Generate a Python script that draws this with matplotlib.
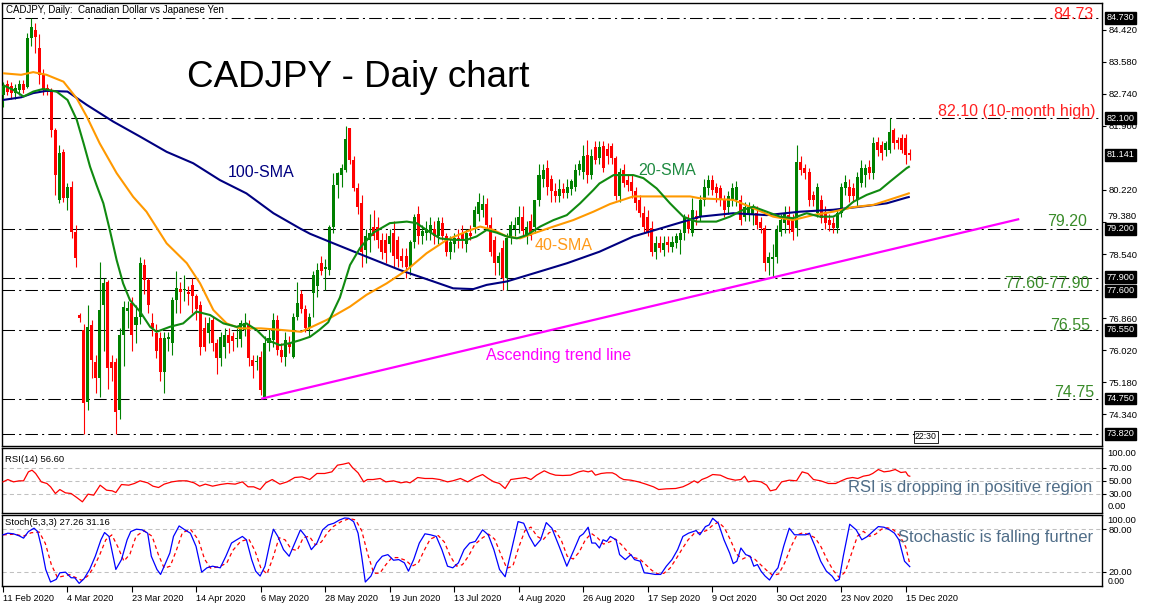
import matplotlib
matplotlib.use("Agg")
import matplotlib.pyplot as plt
import numpy as np

plt.rcParams['font.family'] = ['Liberation Sans', 'DejaVu Sans']

# ---------------- data ----------------
# daily candles, bar 0 = 11 Feb 2020 ... bar 225 = 16 Dec 2020
opens = [82.70, 83.00, 82.95, 82.75, 82.85, 83.00, 82.92, 84.20, 84.42, 83.94,
         83.23, 82.90, 82.79, 81.79, 79.96, 81.22, 80.01, 80.30, 79.12, 76.95,
         76.55, 74.66, 76.68, 75.71, 75.29, 77.20, 77.81, 75.71, 75.71, 74.45,
         76.42, 77.05, 77.25, 76.68, 76.89, 78.25, 77.86, 76.73, 76.47, 76.34,
         75.45, 76.30, 76.21, 77.33, 77.62, 77.60, 77.55, 77.72, 77.43, 77.20,
         76.60, 76.47, 76.80, 76.20, 75.80, 76.10, 76.42, 76.38, 76.30, 76.30,
         76.55, 76.68, 75.76, 75.70, 75.84, 74.79, 76.21, 76.29, 76.81, 76.02,
         75.84, 76.20, 75.84, 76.89, 77.50, 77.10, 76.60, 77.52, 77.70, 78.30,
         78.15, 78.12, 79.25, 80.35, 80.60, 80.75, 81.85, 81.01, 80.27, 79.88,
         78.65, 78.90, 79.25, 79.25, 78.90, 78.90, 78.80, 79.10, 78.90, 78.50,
         78.50, 78.20, 78.85, 79.60, 79.00, 79.10, 79.10, 79.20, 79.00, 79.35,
         79.00, 78.60, 78.80, 78.95, 79.10, 78.80, 79.10, 79.26, 79.60, 79.70,
         79.85, 79.30, 78.90, 78.30, 78.70, 77.91, 78.96, 79.20, 79.30, 79.50,
         79.00, 79.40, 79.25, 79.95, 80.50, 80.80, 80.50, 80.20, 80.05, 80.25,
         80.15, 80.25, 80.30, 80.75, 80.70, 81.14, 80.60, 81.35, 81.06, 81.36,
         81.30, 81.36, 81.05, 80.05, 80.74, 80.48, 80.44, 80.18, 79.96, 79.61,
         79.52, 79.22, 78.60, 78.82, 78.65, 78.85, 78.73, 78.82, 78.91, 79.08,
         79.40, 79.09, 79.55, 79.52, 79.96, 80.26, 80.48, 80.31, 80.26, 79.96,
         79.78, 79.96, 79.96, 79.96, 79.52, 79.57, 79.57, 79.61, 79.39, 79.22,
         78.30, 78.40, 78.47, 79.13, 79.35, 79.57, 79.43, 79.22, 80.96, 80.79,
         80.70, 80.09, 79.61, 79.96, 79.65, 79.43, 79.35, 79.22, 79.61, 80.26,
         80.31, 80.26, 79.96, 80.39, 80.60, 80.83, 80.66, 81.49, 81.40, 81.27,
         81.27, 81.80, 81.53, 81.58, 81.58, 81.18]
highs = [83.05, 83.10, 83.05, 83.00, 83.10, 83.10, 84.34, 84.73, 84.60, 84.30,
         83.40, 83.00, 82.90, 81.85, 81.40, 81.30, 80.40, 80.45, 79.30, 77.00,
         76.70, 77.20, 76.80, 75.90, 78.33, 77.90, 77.85, 75.90, 75.80, 76.60,
         77.30, 77.30, 77.40, 77.20, 78.46, 78.40, 77.90, 77.00, 76.70, 76.50,
         76.50, 76.50, 77.40, 78.10, 77.80, 78.00, 77.70, 77.90, 77.50, 77.30,
         76.90, 76.90, 76.90, 76.30, 76.50, 76.60, 76.60, 76.50, 76.60, 76.80,
         77.00, 76.80, 75.90, 75.90, 76.00, 76.40, 76.60, 77.00, 76.95, 76.20,
         76.50, 76.40, 77.00, 77.81, 77.60, 77.20, 77.00, 78.10, 78.30, 78.50,
         78.40, 79.30, 80.67, 80.70, 80.90, 81.90, 81.85, 81.10, 80.40, 80.10,
         79.20, 79.60, 79.70, 79.50, 79.10, 79.10, 79.20, 79.40, 79.00, 78.70,
         78.70, 78.90, 79.60, 79.80, 79.30, 79.40, 79.50, 79.40, 79.50, 79.50,
         79.10, 79.00, 79.10, 79.20, 79.30, 79.20, 79.30, 79.80, 80.14, 80.10,
         80.00, 79.50, 79.00, 78.60, 78.90, 79.10, 79.40, 79.50, 79.80, 79.80,
         79.40, 79.60, 79.90, 80.90, 80.90, 81.00, 80.60, 80.40, 80.50, 80.40,
         80.50, 80.50, 80.90, 81.00, 81.40, 81.53, 81.30, 81.50, 81.50, 81.50,
         81.45, 81.45, 81.10, 80.80, 80.90, 80.60, 80.60, 80.30, 80.10, 79.80,
         79.70, 79.40, 79.00, 79.00, 79.00, 79.00, 79.00, 79.10, 79.20, 79.60,
         79.60, 80.00, 79.70, 80.10, 80.50, 80.60, 80.60, 80.40, 80.35, 80.10,
         80.20, 80.40, 80.45, 80.10, 79.90, 79.90, 79.85, 79.80, 79.50, 79.30,
         78.60, 78.80, 79.30, 79.60, 79.80, 79.80, 79.60, 81.40, 81.10, 80.90,
         80.80, 80.20, 80.40, 80.10, 79.80, 79.60, 79.50, 79.70, 80.40, 80.60,
         80.50, 80.40, 80.70, 81.00, 80.90, 81.00, 81.60, 81.60, 81.50, 81.50,
         82.10, 81.85, 81.60, 81.70, 81.70, 81.30]
lows = [82.39, 82.70, 82.60, 82.60, 82.70, 82.75, 82.90, 84.00, 83.80, 83.00,
        82.70, 82.70, 81.60, 80.09, 79.88, 79.90, 79.70, 78.96, 78.20, 76.75,
        73.82, 74.45, 75.30, 74.90, 74.80, 76.00, 75.00, 75.20, 73.82, 74.20,
        75.60, 76.60, 76.00, 76.20, 76.70, 77.50, 77.00, 76.40, 75.80, 75.20,
        74.90, 76.00, 75.90, 77.00, 77.00, 77.30, 77.20, 77.00, 76.80, 75.90,
        76.00, 76.20, 76.00, 75.40, 75.60, 75.80, 75.95, 76.00, 76.10, 76.10,
        76.40, 75.60, 75.30, 75.50, 74.85, 74.75, 76.00, 76.10, 75.90, 75.70,
        75.60, 75.95, 75.80, 76.80, 77.00, 76.50, 76.40, 76.90, 77.40, 78.00,
        77.60, 78.00, 79.10, 80.00, 80.30, 80.70, 80.90, 80.20, 79.60, 78.20,
        78.30, 78.60, 78.90, 78.70, 78.40, 78.30, 78.60, 78.20, 78.20, 78.20,
        77.90, 78.00, 78.70, 78.80, 78.80, 78.90, 78.90, 78.80, 78.80, 78.90,
        78.50, 78.40, 78.60, 78.70, 78.70, 78.60, 78.90, 79.10, 79.40, 79.50,
        79.20, 78.50, 78.00, 78.00, 77.60, 77.60, 78.80, 79.00, 79.10, 79.00,
        78.80, 78.90, 79.10, 79.80, 80.30, 80.10, 79.90, 79.90, 79.90, 80.00,
        80.00, 80.10, 80.20, 80.60, 80.50, 80.40, 80.50, 80.90, 80.90, 80.70,
        80.90, 80.90, 79.95, 79.90, 80.30, 80.20, 80.00, 79.70, 79.50, 79.10,
        79.00, 78.50, 78.40, 78.60, 78.50, 78.60, 78.60, 78.70, 78.55, 78.90,
        79.10, 79.00, 79.30, 79.40, 79.80, 80.10, 80.10, 79.90, 79.80, 79.50,
        79.60, 79.80, 79.80, 79.30, 79.40, 79.40, 79.30, 79.20, 79.10, 78.10,
        78.00, 77.95, 78.30, 79.00, 79.10, 79.10, 78.90, 79.00, 80.60, 80.50,
        79.80, 79.80, 79.50, 79.35, 79.20, 79.15, 79.10, 79.10, 79.50, 80.10,
        79.90, 79.90, 79.80, 80.30, 80.30, 80.50, 80.50, 81.10, 81.00, 81.10,
        81.20, 81.30, 81.30, 81.20, 80.90, 81.00]
closes = [82.95, 82.80, 82.75, 82.90, 83.00, 82.85, 84.20, 84.50, 84.24, 83.23,
          82.84, 82.80, 81.79, 80.61, 81.19, 80.01, 80.30, 79.12, 78.44, 76.86,
          74.63, 76.63, 75.76, 75.29, 77.07, 77.78, 75.55, 75.55, 74.40, 76.42,
          77.15, 77.12, 76.42, 76.89, 78.30, 77.86, 77.20, 76.60, 76.00, 75.45,
          76.34, 76.36, 77.33, 77.65, 77.55, 77.62, 77.50, 77.43, 77.10, 76.10,
          76.10, 76.73, 76.20, 75.80, 76.37, 76.42, 76.20, 76.25, 76.32, 76.73,
          76.73, 75.80, 75.60, 75.72, 74.97, 76.21, 76.34, 76.81, 76.02, 75.84,
          76.29, 76.10, 76.89, 77.26, 77.10, 76.60, 76.90, 77.99, 78.12, 78.10,
          78.20, 79.25, 80.35, 80.67, 80.80, 81.55, 81.01, 80.27, 79.77, 78.59,
          79.00, 79.10, 79.00, 78.90, 78.60, 78.57, 79.00, 78.50, 78.40, 78.35,
          78.20, 78.85, 79.50, 79.00, 79.15, 79.20, 79.30, 79.00, 79.40, 79.00,
          78.60, 78.86, 78.95, 78.90, 78.90, 79.10, 79.00, 79.70, 79.90, 79.85,
          79.30, 78.60, 78.30, 78.50, 77.91, 78.96, 79.30, 79.30, 79.50, 79.15,
          79.25, 79.00, 79.95, 80.60, 80.75, 80.30, 80.20, 80.05, 80.25, 80.15,
          80.30, 80.45, 80.75, 80.90, 81.10, 80.60, 81.10, 81.00, 81.35, 80.79,
          81.10, 81.05, 80.05, 80.70, 80.39, 80.35, 80.18, 79.87, 79.61, 79.26,
          79.13, 78.60, 78.82, 78.69, 78.82, 78.78, 78.85, 79.00, 79.08, 79.52,
          79.20, 79.70, 79.45, 79.96, 80.31, 80.48, 80.22, 80.14, 79.96, 79.70,
          80.05, 80.26, 80.31, 79.43, 79.78, 79.78, 79.78, 79.30, 79.22, 78.30,
          78.47, 78.47, 79.17, 79.43, 79.61, 79.30, 79.13, 80.96, 80.74, 80.66,
          79.96, 79.96, 80.31, 79.48, 79.35, 79.30, 79.22, 79.61, 80.31, 80.44,
          80.05, 80.05, 80.56, 80.79, 80.79, 80.66, 81.45, 81.27, 81.18, 81.44,
          81.74, 81.44, 81.44, 81.27, 81.14, 81.141]

# moving averages as (bar, price) points
sma20 = [(0, 82.97), (2.6, 82.84), (5.1, 82.67), (7.5, 82.80), (10, 82.87), (13.3, 82.80),
         (16, 82.58), (18.3, 82.06), (20, 81.44), (21.6, 80.83), (23.2, 80.35), (24.9, 79.87),
         (26.5, 79.17), (28.2, 78.38), (29.8, 77.77), (31.5, 77.33), (34, 77.03), (36.5, 76.63),
         (38.1, 76.50), (41.4, 76.63), (44.7, 76.72), (48, 77.03), (51.4, 76.94), (54.7, 76.72),
         (58, 76.63), (60.4, 76.72), (62.9, 76.55), (65.4, 76.29), (68.7, 76.15), (71.1, 76.20),
         (73.7, 76.28), (76.2, 76.37), (78.5, 76.55), (80.7, 76.75), (83.6, 77.40), (86.1, 78.25),
         (88.6, 78.70), (91.9, 79.10), (96, 79.35), (100.2, 79.39), (102.6, 79.35), (105.1, 79.17),
         (108.4, 78.95), (111.7, 78.91), (115, 78.91), (117.5, 79.00), (120, 79.17), (122.5, 79.10),
         (125, 79.00), (127.5, 78.95), (130, 79.04), (133.3, 79.26), (136.6, 79.43), (139.9, 79.56),
         (143.2, 79.87), (146.5, 80.22), (148, 80.39), (151.5, 80.61), (156.4, 80.61), (158.9, 80.53),
         (162.2, 80.26), (165.5, 79.87), (168.8, 79.52), (172.1, 79.39), (177, 79.39), (180.4, 79.52),
         (183.7, 79.70), (186.2, 79.78), (189.5, 79.65), (192.8, 79.52), (196, 79.48), (199.4, 79.61),
         (202.7, 79.52), (206, 79.52), (207.6, 79.61), (211, 79.91), (214.3, 80.09), (217.6, 80.22),
         (220.1, 80.44), (224.2, 80.79), (225, 80.84)]
sma40 = [(0, 83.28), (4.5, 83.24), (7.5, 83.31), (10.8, 83.24), (15, 83.06), (18.3, 82.62),
         (20.8, 82.14), (24, 81.44), (28.2, 80.66), (32.3, 80.04), (35.6, 79.65), (40.6, 78.82),
         (45.6, 78.30), (48.9, 77.77), (52.2, 77.07), (55.5, 76.72), (58.8, 76.59), (64, 76.59),
         (68.9, 76.55), (74, 76.50), (80.3, 76.81), (86.1, 77.16), (90.2, 77.47), (95.2, 77.77),
         (100.2, 78.12), (105.1, 78.56), (110.1, 78.91), (115, 79.13), (118.4, 79.26), (121.7, 79.17),
         (125, 79.00), (128.3, 78.95), (131.6, 79.08), (136.6, 79.26), (141.5, 79.43), (146.5, 79.65),
         (150.6, 79.85), (156.4, 80.05), (164.7, 80.05), (170.5, 80.05), (173, 80.00), (181.2, 79.96),
         (185.3, 79.78), (191.1, 79.52), (196, 79.43), (201, 79.56), (206, 79.65), (211, 79.77),
         (216, 79.83), (221, 80.00), (224.2, 80.11), (225, 80.14)]
sma100 = [(0, 82.58), (4.5, 82.65), (7.5, 82.76), (10.8, 82.82), (16, 82.80), (20.8, 82.45),
          (27.4, 82.01), (34, 81.62), (40.6, 81.22), (47.2, 80.92), (53.8, 80.48), (60.4, 80.13),
          (67.1, 79.61), (73.7, 79.21), (76.2, 79.07), (82, 78.82), (90.2, 78.47), (98.5, 78.12),
          (106.8, 77.82), (111.7, 77.64), (116.7, 77.62), (120, 77.73), (125, 77.82), (131.6, 78.03),
          (140, 78.30), (148, 78.60), (156.4, 79.00), (164.7, 79.26), (173, 79.52), (181.2, 79.61),
          (189.5, 79.56), (197.8, 79.65), (206, 79.70), (214.3, 79.80), (219.3, 79.87), (224.2, 80.02),
          (225, 80.04)]

# ascending trend line (start low on 6 May, extended to the right)
trend = [(64.3, 74.75), (251.9, 79.45)]

# horizontal levels
levels = [84.73, 82.10, 79.20, 77.90, 77.60, 76.55, 74.75, 73.82]
last_price = 81.141
price_ticks = [84.42, 83.58, 82.74, 81.90, 80.22, 79.38, 78.54,
               76.86, 76.02, 75.18, 74.34]
lifted_tick = 79.38      # label sits just above the 79.200 box

# RSI(14) as (bar, value)
rsi = [(0, 47.9), (1.2, 51.5), (2.6, 47.9), (4, 49.5), (5.1, 49.5), (6.3, 63.3), (7.2, 65.9),
       (8.1, 60.8), (9.5, 47.9), (10.9, 45.4), (11.8, 40.3), (13, 30.0), (14.1, 36.1), (15.5, 31.0),
       (16.9, 30.0), (18.3, 23.8), (19.7, 17.2), (21.1, 29.0), (22.5, 27.4), (24.1, 42.8),
       (25.7, 35.1), (27.1, 34.1), (28, 31.5), (29.4, 43.8), (31.2, 42.8), (32.6, 45.4), (34, 49.5),
       (35.9, 46.4), (37.2, 41.3), (38.6, 39.2), (40, 44.4), (41.9, 47.9), (43.7, 49.5), (45.6, 49.5),
       (47.4, 46.4), (48.8, 41.3), (50.2, 44.4), (52, 41.3), (53.9, 43.8), (55.7, 45.4), (57.6, 44.4),
       (59.4, 47.9), (60.8, 40.3), (62.2, 40.3), (63.8, 36.1), (65.2, 46.4), (66.8, 51.5), (68.7, 44.4),
       (70.5, 47.9), (72.4, 54.6), (74.2, 55.6), (76.1, 51.5), (77.9, 60.8), (79.8, 60.8), (81.6, 63.3),
       (83, 73.6), (84.4, 75.1), (85.8, 77.2), (86.7, 70.0), (88.1, 61.8), (89.5, 47.9), (90.4, 51.5),
       (91.8, 51.5), (93.6, 53.1), (95, 47.9), (96.9, 49.5), (98.7, 46.4), (100.1, 47.9), (101, 46.4),
       (102.9, 54.6), (104.7, 53.1), (106.6, 53.1), (108.4, 51.5), (110.3, 47.9), (111.6, 49.5),
       (113.5, 53.1), (115.3, 47.9), (117.2, 54.6), (119, 59.2), (120.4, 53.1), (121.8, 47.9),
       (123.2, 45.4), (124.6, 37.7), (126, 51.5), (127.8, 53.1), (129.7, 54.6), (131, 51.5),
       (132.4, 58.2), (134.3, 64.9), (135.7, 60.8), (137.1, 58.2), (138.9, 57.7), (140.8, 58.2),
       (142.9, 63.3), (144, 64.9), (145.2, 63.3), (146.1, 64.9), (147, 58.2), (148.4, 60.8),
       (149.8, 61.8), (151.2, 61.8), (152.1, 59.2), (153, 54.6), (154, 51.5), (155.8, 50.5),
       (157.7, 47.9), (159.5, 44.4), (161.4, 40.3), (162.7, 36.1), (164.6, 37.2), (166.9, 37.7),
       (168.7, 40.3), (170.1, 44.4), (171.5, 49.5), (172.4, 46.4), (173.4, 51.5), (174.7, 54.6),
       (176.1, 59.2), (178, 58.2), (179.8, 53.1), (181.7, 50.5), (183.1, 51.5), (184, 56.7),
       (184.9, 47.9), (186.3, 49.5), (188.1, 47.9), (189.5, 42.8), (190.4, 34.1), (191.8, 36.1),
       (193.2, 47.9), (195.1, 50.5), (196.9, 49.5), (198.3, 63.3), (199.7, 60.8), (201.1, 51.5),
       (202.9, 49.5), (204.8, 45.4), (206.6, 45.4), (208, 49.5), (209.4, 53.1), (210.8, 54.6),
       (212.1, 53.1), (213.5, 56.7), (214.9, 58.2), (215.8, 60.8), (217.2, 66.9), (218.6, 63.3),
       (220, 64.4), (221.4, 66.9), (222.8, 62.3), (224, 63.3), (224.6, 57.5), (225, 56.6)]

# Stochastic(5,3,3): main line %K and signal %D as (bar, value)
stoch_k = [(0, 72.1), (1.2, 74.4), (2.6, 73.5), (4, 70.7), (5.1, 67.4), (6.3, 76.7), (7.7, 81.4),
           (8.6, 76.7), (9.5, 55.8), (10.6, 23.3), (11.8, 5.6), (13.2, 9.3), (14.1, 18.6),
           (15.5, 19.5), (16.9, 11.6), (17.8, 11.6), (18.9, 3.7), (20.1, 10.2), (21.5, 23.3),
           (22.9, 41.9), (24.3, 65.1), (25.2, 75.3), (26.3, 69.8), (27.5, 37.2), (28, 23.3),
           (29.4, 37.2), (30.8, 65.1), (31.7, 76.7), (33.1, 80.0), (34.5, 79.1), (35.9, 74.4),
           (36.8, 41.9), (38.2, 23.3), (39.1, 16.3), (40, 27.9), (41.4, 46.5), (42.3, 69.8),
           (43.7, 84.6), (45.1, 79.1), (46.5, 74.4), (47.9, 55.8), (48.8, 32.6), (49.3, 19.5),
           (50.6, 25.6), (52, 27.9), (53.9, 25.6), (55.3, 41.9), (56.7, 60.5), (58, 65.1),
           (59.4, 69.8), (60.4, 65.1), (61.7, 37.2), (62.7, 20.9), (63.8, 14.0), (65, 27.9),
           (66.4, 65.1), (67.1, 80.0), (68.2, 69.8), (69.6, 51.2), (71, 41.9), (72.4, 60.5),
           (73.8, 79.1), (75.1, 69.8), (76.5, 51.2), (77.9, 60.5), (79.3, 79.1), (80.7, 86.0),
           (82.1, 88.4), (83.5, 93.0), (84.8, 95.8), (85.8, 95.3), (87, 90.7), (88.1, 74.4),
           (89, 41.9), (89.9, 5.6), (91.3, 14.0), (92.7, 32.6), (94.1, 41.9), (95.5, 44.2),
           (96.9, 36.3), (98.2, 37.2), (99.6, 32.6), (100.6, 20.9), (101.9, 37.2), (103.3, 60.5),
           (104.7, 73.5), (106.1, 72.1), (107.5, 69.8), (108.9, 51.2), (110.3, 27.9), (111.6, 25.6),
           (113, 32.6), (114.4, 51.2), (115.8, 60.5), (117.2, 62.8), (119, 79.1), (120.4, 72.1),
           (121.8, 51.2), (123.2, 23.3), (124.6, 13.0), (126, 46.5), (127.8, 90.7), (129.2, 88.4),
           (130.6, 69.8), (132, 55.8), (133.4, 65.1), (134.8, 89.3), (136.2, 81.4), (138, 55.8),
           (139.9, 27.9), (141.7, 51.2), (143.1, 69.8), (144, 73.5), (145.2, 82.8), (146.1, 60.5),
           (147, 60.5), (148, 53.5), (148.9, 65.1), (149.8, 62.8), (150.7, 69.8), (152.1, 65.1),
           (153, 44.2), (154.4, 37.2), (155.8, 44.2), (156.7, 37.2), (158.1, 34.9), (159.1, 18.6),
           (160.4, 17.7), (161.8, 16.3), (163.2, 16.3), (164.6, 27.9), (166, 37.2), (167.4, 51.2),
           (168.7, 69.8), (170.1, 74.4), (172, 78.1), (172.9, 72.1), (174.3, 83.7), (175.2, 86.0),
           (176.1, 95.3), (177.5, 88.4), (178.9, 65.1), (180.3, 46.5), (181.2, 31.6), (182.1, 34.9),
           (183.1, 53.5), (184.3, 44.2), (185.4, 41.9), (186.3, 27.9), (187.2, 30.2), (188.1, 20.9),
           (189.1, 14.0), (190.2, 8.4), (191.4, 19.5), (192.3, 25.6), (193.7, 55.8), (195.1, 81.4),
           (196.4, 72.1), (197.8, 72.1), (199.2, 72.1), (200.1, 74.4), (201.5, 55.8), (202.9, 34.9),
           (204.3, 20.9), (205.7, 14.0), (206.6, 7.0), (207.5, 9.3), (208.5, 41.9), (210.1, 87.0),
           (211.7, 79.1), (213.1, 65.1), (214.5, 69.8), (215.8, 76.7), (217.2, 83.7), (218.6, 82.8),
           (220, 79.1), (221.2, 74.4), (222.3, 65.1), (223.7, 34.9), (225, 27.26)]
stoch_d = [(0, 72), (3, 73), (5, 70), (7, 75), (9, 76), (10.5, 60), (12, 30), (13.5, 12),
           (15, 14), (16.5, 16), (18, 12), (19.5, 8), (21, 14), (22.5, 26), (24, 44), (25.5, 65),
           (27, 72), (28.5, 55), (30, 35), (31.5, 45), (33, 70), (35, 78), (37, 70), (38.5, 45),
           (40, 25), (41.5, 28), (43, 50), (44.5, 75), (46.5, 80), (48.5, 65), (50, 38), (51.5, 25),
           (53.5, 27), (55.5, 32), (57, 50), (59, 63), (61, 66), (62.5, 50), (64, 25), (65.5, 17),
           (67, 40), (68.5, 68), (70, 65), (71.5, 52), (73, 50), (74.5, 68), (76, 70), (77.5, 58),
           (79, 62), (80.5, 75), (82, 84), (84, 91), (86, 95), (87.5, 93), (89, 78), (90.5, 45),
           (92, 18), (93.5, 18), (95, 30), (96.5, 40), (98, 40), (100, 36), (101.5, 28), (103, 32),
           (104.5, 50), (106, 66), (108, 71), (109.5, 62), (111, 42), (112.5, 28), (114, 30),
           (115.5, 42), (117, 58), (119, 68), (120.5, 73), (122, 66), (123.5, 45), (125, 25),
           (126.5, 28), (128, 55), (129.5, 78), (131, 83), (132.5, 70), (134, 65), (135.5, 75),
           (137, 78), (138.5, 65), (140, 42), (141.5, 38), (143, 48), (144.5, 65), (146, 74),
           (147.5, 68), (149, 59), (150.5, 62), (152, 66), (153.5, 58), (155, 48), (156.5, 40),
           (158, 38), (159.5, 30), (161, 22), (162.5, 17), (164, 18), (165.5, 25), (167, 38),
           (168.5, 52), (170, 65), (171.5, 74), (173, 75), (174.5, 78), (176, 85), (177.5, 90),
           (179, 82), (180.5, 65), (182, 45), (183.5, 38), (185, 42), (186.5, 38), (188, 30),
           (189.5, 22), (191, 15), (192.5, 17), (194, 33), (195.5, 55), (197, 72), (198.5, 75),
           (200, 72), (201.5, 68), (203, 55), (204.5, 37), (206, 22), (207.5, 12), (209, 20),
           (210.5, 45), (212, 70), (213.5, 77), (215, 70), (216.5, 73), (218, 80), (219.5, 82),
           (221, 79), (222.5, 71), (224, 55), (225, 31.16)]

date_ticks = [0, 16, 32, 48, 64, 80, 96, 112, 128, 144, 160, 176, 192, 208, 224]
date_labels = ["11 Feb 2020", "4 Mar 2020", "23 Mar 2020", "14 Apr 2020", "6 May 2020",
               "28 May 2020", "19 Jun 2020", "13 Jul 2020", "4 Aug 2020", "26 Aug 2020",
               "17 Sep 2020", "9 Oct 2020", "30 Oct 2020", "23 Nov 2020", "15 Dec 2020"]

# ---------------- layout (pixel based) ----------------
W, H = 1149, 607
fig = plt.figure(figsize=(W / 100, H / 100), dpi=100)
fig.patch.set_facecolor('white')


def px_axes(x0, y0, x1, y1):
    return fig.add_axes([x0 / W, 1 - y1 / H, (x1 - x0) / W, (y1 - y0) / H])


ax = px_axes(2, 3, 1102, 446)
ax_rsi = px_axes(2, 448, 1102, 513)
ax_st = px_axes(2, 515, 1102, 586)

XMIN, XMAX = -0.25, 272.7
for a in (ax, ax_rsi, ax_st):
    a.set_xlim(XMIN, XMAX)
    for s in a.spines.values():
        s.set_linewidth(1.0)
        s.set_color('black')
    a.yaxis.tick_right()
    a.tick_params(axis='y', length=3, width=0.8, pad=1.5, labelsize=6.8, direction='out')

# ---------------- main price chart ----------------
ax.set_ylim(73.505, 85.123)
ax.set_xticks([])

x = np.arange(len(closes))
o = np.array(opens)
h = np.array(highs)
l = np.array(lows)
c = np.array(closes)
cols = np.where(c >= o, '#008000', '#ff0000')

ax.vlines(x, l, h, colors=cols, lw=0.8, zorder=3)
ax.bar(x, np.maximum(np.abs(c - o), 0.03), bottom=np.minimum(o, c), width=0.75,
       color=cols, lw=0, zorder=4)

for v in levels:
    ax.axhline(v, color='black', lw=0.75, ls=(0, (12, 4, 2, 4)), zorder=2)

for pts, col in ((sma100, '#000080'), (sma40, '#ff9900'), (sma20, '#108a10')):
    xs, ys = zip(*pts)
    ax.plot(xs, ys, color=col, lw=1.5, zorder=5, solid_capstyle='butt')

tx, ty = zip(*trend)
ax.plot(tx, ty, color='#ff00ff', lw=1.6, zorder=5)

ax.set_yticks(price_ticks)
ax.set_yticklabels(["" if t == lifted_tick else f"{t:.3f}" for t in price_ticks])
ax.annotate(f"{lifted_tick:.3f}", xy=(1, lifted_tick), xycoords=('axes fraction', 'data'),
            xytext=(4, 0.5), textcoords='offset points', ha='left', va='bottom',
            fontsize=6.8, annotation_clip=False)

# highlighted price boxes; the close pair 77.90 / 77.60 is nudged apart a little
box_nudge = {77.90: 0.8, 77.60: -0.8}
for v in levels + [last_price]:
    ax.annotate(f"{v:.3f}", xy=(1, v), xycoords=('axes fraction', 'data'),
                xytext=(3.2, box_nudge.get(v, 0)), textcoords='offset points',
                ha='left', va='center', fontsize=6.6, color='white',
                annotation_clip=False, zorder=10,
                bbox=dict(boxstyle='square,pad=0.16', fc='black', ec='black'))

ax.text(0.004, 0.985, "CADJPY, Daily:  Canadian Dollar vs Japanese Yen",
        transform=ax.transAxes, fontsize=7, ha='left', va='center')
ax.text(0.168, 0.831, "CADJPY - Daiy chart", transform=ax.transAxes,
        fontsize=26.5, ha='left', va='center', color='black')

ax.text(0.2055, 0.6185, "100-SMA", transform=ax.transAxes, fontsize=11.5,
        color='#000080', ha='left', va='center')
ax.text(0.578, 0.621, "20-SMA", transform=ax.transAxes, fontsize=11.5,
        color='#1e8a40', ha='left', va='center')
ax.text(0.4845, 0.4515, "40-SMA", transform=ax.transAxes, fontsize=11.5,
        color='#ff9a1a', ha='left', va='center')
ax.text(0.44, 0.2054, "Ascending trend line", transform=ax.transAxes, fontsize=11.5,
        color='#ff00ff', ha='left', va='center')

red_txt = '#ff2020'
grn_txt = '#3a8c2a'
ax.text(0.9927, 0.973, "84.73", transform=ax.transAxes, fontsize=11.5, color=red_txt,
        ha='right', va='center')
ax.text(0.9945, 0.756, "82.10 (10-month high)", transform=ax.transAxes, fontsize=11.5,
        color=red_txt, ha='right', va='center')
ax.text(0.9864, 0.506, "79.20", transform=ax.transAxes, fontsize=11.5, color=grn_txt,
        ha='right', va='center')
ax.text(0.989, 0.366, "77.60-77.90", transform=ax.transAxes, fontsize=11.5, color=grn_txt,
        ha='right', va='center')
ax.text(0.989, 0.273, "76.55", transform=ax.transAxes, fontsize=11.5, color=grn_txt,
        ha='right', va='center')
ax.text(0.9927, 0.120, "74.75", transform=ax.transAxes, fontsize=11.5, color=grn_txt,
        ha='right', va='center')

ax.text(0.830, 0.021, "22:30", transform=ax.transAxes, fontsize=6.3, ha='left',
        va='center', zorder=9,
        bbox=dict(boxstyle='square,pad=0.15', fc='white', ec='black', lw=0.6))

# ---------------- RSI ----------------
ax_rsi.set_ylim(0, 100)
ax_rsi.set_xticks([])
for v in (70, 50, 30):
    ax_rsi.axhline(v, color='#c0c0c0', lw=0.75, ls=(0, (4, 3)), zorder=1)
rx, ry = zip(*rsi)
ax_rsi.plot(rx, ry, color='#ff0000', lw=0.9, zorder=3)
ax_rsi.set_yticks([70, 50, 30])
ax_rsi.set_yticklabels(["70.00", "50.00", "30.00"])
ax_rsi.annotate("100.00", xy=(1, 100), xycoords=('axes fraction', 'data'), xytext=(4, -1),
                textcoords='offset points', ha='left', va='top', fontsize=6.8,
                annotation_clip=False)
ax_rsi.annotate("0.00", xy=(1, 0), xycoords=('axes fraction', 'data'), xytext=(4, 1.5),
                textcoords='offset points', ha='left', va='bottom', fontsize=6.8,
                annotation_clip=False)
ax_rsi.text(0.003, 0.83, "RSI(14) 56.60", transform=ax_rsi.transAxes, fontsize=6.8,
            ha='left', va='center')
ax_rsi.text(0.9915, 0.385, "RSI is dropping in positive region", transform=ax_rsi.transAxes,
            fontsize=12, color='#4f6d88', ha='right', va='center')

# ---------------- Stochastic ----------------
ax_st.set_ylim(0, 100)
for v in (80, 20):
    ax_st.axhline(v, color='#c0c0c0', lw=0.75, ls=(0, (4, 3)), zorder=1)
kx, ky = zip(*stoch_k)
dx, dy = zip(*stoch_d)
ax_st.plot(kx, ky, color='#0000ff', lw=0.9, zorder=4)
ax_st.plot(dx, dy, color='#ff0000', lw=0.9, ls=(0, (3, 2.5)), zorder=3)
ax_st.set_yticks([80, 20])
ax_st.set_yticklabels(["80.00", "20.00"])
ax_st.annotate("100.00", xy=(1, 100), xycoords=('axes fraction', 'data'), xytext=(4, -1),
               textcoords='offset points', ha='left', va='top', fontsize=6.8,
               annotation_clip=False)
ax_st.annotate("0.00", xy=(1, 0), xycoords=('axes fraction', 'data'), xytext=(4, 0),
               textcoords='offset points', ha='left', va='bottom', fontsize=6.3,
               annotation_clip=False)
ax_st.text(0.003, 0.90, "Stoch(5,3,3) 27.26 31.16", transform=ax_st.transAxes,
           fontsize=6.8, ha='left', va='center')
ax_st.text(0.9915, 0.69, "Stochastic is falling furtner", transform=ax_st.transAxes,
           fontsize=12, color='#4f6d88', ha='right', va='center')

ax_st.set_xticks(date_ticks)
ax_st.set_xticklabels(date_labels, ha='left', fontsize=6.6)
ax_st.tick_params(axis='x', length=4, width=0.8, pad=1.5, direction='out')

fig.savefig("out.png", dpi=100, facecolor='white')
